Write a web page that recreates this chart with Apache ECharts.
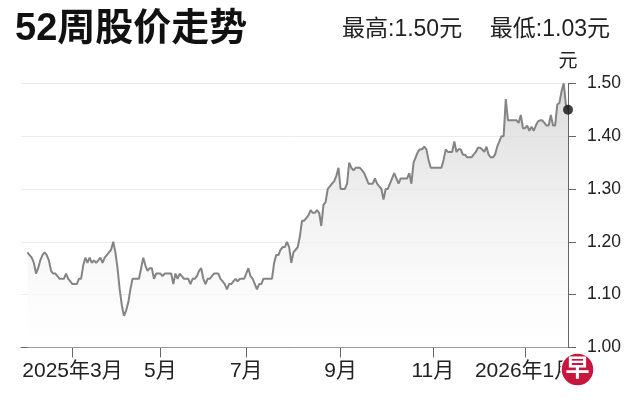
<!DOCTYPE html>
<html><head><meta charset="utf-8">
<script src="https://cdn.jsdelivr.net/npm/echarts@6/dist/echarts.min.js"></script>
<style>html,body{margin:0;padding:0;background:#fff}#c{width:626px;height:418px}</style>
</head><body><div id="c"></div>
<script>
// daily closing prices (trading days), first three slots empty before the series starts
const prices = [null, null, null,
  1.18, 1.175, 1.17, 1.16, 1.14, 1.15, 1.165, 1.175, 1.18, 1.175,
  1.165, 1.145, 1.14, 1.14, 1.135, 1.13, 1.13, 1.13, 1.14, 1.13,
  1.125, 1.12, 1.12, 1.12, 1.13, 1.13, 1.155, 1.17, 1.16, 1.17,
  1.16, 1.165, 1.16, 1.165, 1.17, 1.16, 1.17, 1.175, 1.18, 1.185,
  1.20, 1.18, 1.15, 1.11, 1.08, 1.06, 1.07, 1.085, 1.11, 1.13,
  1.13, 1.13, 1.13, 1.15, 1.17, 1.155, 1.145, 1.15, 1.15, 1.13,
  1.14, 1.14, 1.14, 1.135, 1.14, 1.14, 1.14, 1.14, 1.12, 1.14,
  1.13, 1.14, 1.135, 1.13, 1.13, 1.13, 1.12, 1.13, 1.13, 1.135,
  1.145, 1.15, 1.13, 1.12, 1.13, 1.13, 1.135, 1.14, 1.14, 1.14,
  1.13, 1.125, 1.12, 1.11, 1.12, 1.12, 1.125, 1.13, 1.125, 1.13,
  1.13, 1.13, 1.14, 1.15, 1.135, 1.13, 1.12, 1.11, 1.12, 1.12,
  1.13, 1.13, 1.13, 1.13, 1.13, 1.16, 1.175, 1.175, 1.185, 1.19,
  1.19, 1.20, 1.19, 1.16, 1.18, 1.185, 1.19, 1.21, 1.24, 1.24,
  1.245, 1.25, 1.26, 1.255, 1.255, 1.26, 1.255, 1.23, 1.27, 1.275,
  1.30, 1.305, 1.31, 1.315, 1.325, 1.34, 1.30, 1.30, 1.30, 1.31,
  1.35, 1.34, 1.335, 1.34, 1.34, 1.34, 1.335, 1.33, 1.32, 1.31,
  1.31, 1.31, 1.32, 1.31, 1.305, 1.30, 1.28, 1.30, 1.30, 1.31,
  1.32, 1.33, 1.32, 1.31, 1.32, 1.32, 1.32, 1.32, 1.33, 1.31,
  1.35, 1.36, 1.37, 1.375, 1.375, 1.38, 1.375, 1.355, 1.34, 1.34,
  1.34, 1.34, 1.34, 1.34, 1.355, 1.375, 1.37, 1.37, 1.37, 1.39,
  1.37, 1.375, 1.375, 1.365, 1.365, 1.36, 1.36, 1.36, 1.365, 1.37,
  1.378, 1.378, 1.375, 1.37, 1.38, 1.365, 1.36, 1.36, 1.365, 1.38,
  1.39, 1.40, 1.40, 1.47, 1.43, 1.43, 1.43, 1.43, 1.43, 1.425,
  1.44, 1.415, 1.415, 1.42, 1.41, 1.418, 1.41, 1.42, 1.428, 1.43,
  1.43, 1.425, 1.42, 1.42, 1.44, 1.42, 1.42, 1.46, 1.463, 1.485,
  1.50, 1.46, 1.45
];
const tickIndex = [24, 65, 105, 149, 192, 235];
const tickLabels = ['2025年3月', '5月', '7月', '9月', '11月', '2026年1月'];
const yMin = 1.00, yMax = 1.50, yStep = 0.10;
const titleText = '52周股价走势';
const highText = '最高:1.50元';
const lowText = '最低:1.03元';
const unitText = '元';
const logoText = '早';

const FONT = "'Liberation Sans', 'Noto Sans CJK SC', sans-serif";
const categories = prices.map((_, i) => {
  const k = tickIndex.indexOf(i);
  return k >= 0 ? tickLabels[k] : '';
});
const isTick = (i) => tickIndex.indexOf(i) >= 0;
const lastIdx = prices.length - 1;

const chart = echarts.init(document.getElementById('c'), null, {renderer: 'canvas'});
chart.setOption({
  animation: false,
  backgroundColor: '#ffffff',
  grid: {left: 21, right: 58, top: 83.3, bottom: 70.5, containLabel: false},
  xAxis: {
    type: 'category',
    data: categories,
    boundaryGap: false,
    axisLine: {lineStyle: {color: '#666', width: 1}},
    axisTick: {show: true, length: 10, interval: (i) => isTick(i), lineStyle: {color: '#666'}},
    axisLabel: {show: true, interval: (i) => isTick(i), margin: 13, fontSize: 21, color: '#222', fontFamily: FONT},
    splitLine: {show: false}
  },
  yAxis: {
    type: 'value',
    position: 'right',
    min: yMin, max: yMax, interval: yStep,
    name: unitText,
    nameLocation: 'end',
    nameGap: 12,
    nameTextStyle: {fontSize: 19, color: '#222', fontFamily: FONT, align: 'center'},
    axisLine: {show: true, lineStyle: {color: '#666', width: 1}},
    axisTick: {show: true, length: 8, lineStyle: {color: '#666'}},
    axisLabel: {margin: 19, fontSize: 17.5, color: '#222', fontFamily: FONT, formatter: (v) => v.toFixed(2)},
    splitLine: {show: true, lineStyle: {color: '#ececec', width: 1}}
  },
  series: [
    {
      type: 'line',
      data: prices,
      showSymbol: false,
      symbol: 'none',
      connectNulls: false,
      lineStyle: {color: '#848484', width: 2},
      areaStyle: {
        origin: 'start',
        color: new echarts.graphic.LinearGradient(0, 0, 0, 1, [
          {offset: 0, color: '#cdcdcd'},
          {offset: 0.5, color: '#ededed'},
          {offset: 0.8, color: '#fafafa'},
          {offset: 1, color: '#ffffff'}
        ])
      },
      z: 2
    },
    {
      type: 'scatter',
      data: [[lastIdx, prices[lastIdx]]],
      symbol: 'circle',
      symbolSize: 10,
      itemStyle: {color: '#111'},
      z: 5
    }
  ],
  graphic: [
    {type: 'text', x: 15, y: 29.5, style: {text: titleText, fontSize: 38, fontWeight: 'bold', fontFamily: FONT, fill: '#111', align: 'left', verticalAlign: 'middle'}},
    {type: 'text', x: 342, y: 30, style: {text: highText, fontSize: 23, fontFamily: FONT, fill: '#222', align: 'left', verticalAlign: 'middle'}},
    {type: 'text', x: 610, y: 30, style: {text: lowText, fontSize: 23, fontFamily: FONT, fill: '#222', align: 'right', verticalAlign: 'middle'}},
    {type: 'circle', shape: {cx: 577.5, cy: 369.5, r: 16.5}, style: {fill: '#c8173f', stroke: '#ffffff', lineWidth: 1.5}, z: 100},
    {type: 'text', x: 577.5, y: 369.5, z: 101, style: {text: logoText, fontSize: 24, fontWeight: 'bold', fontFamily: FONT, fill: '#ffffff', align: 'center', verticalAlign: 'middle'}}
  ]
});
</script>
</body></html>
